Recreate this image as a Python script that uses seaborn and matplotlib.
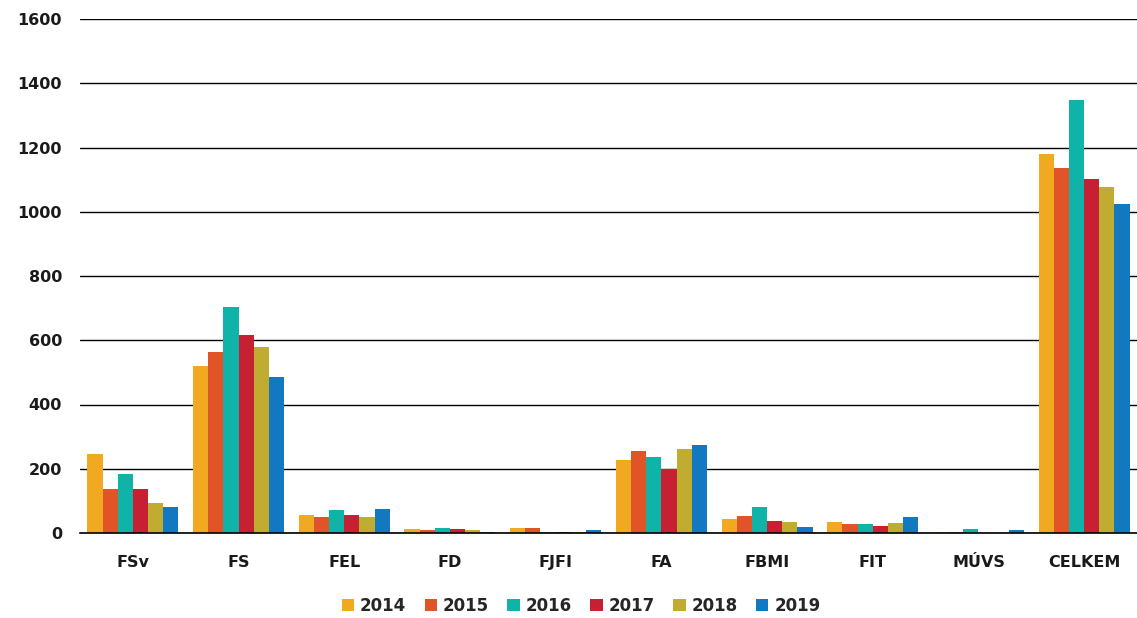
import matplotlib
matplotlib.use("Agg")
import matplotlib.pyplot as plt
import seaborn as sns
import pandas as pd
import numpy as np
from matplotlib.patches import Patch

categories = ["FSv", "FS", "FEL", "FD", "FJFI", "FA", "FBMI", "FIT", "MÚVS", "CELKEM"]
years = ["2014", "2015", "2016", "2017", "2018", "2019"]
v2014 = [247, 520, 55, 11, 15, 228, 44, 33, 3, 1180]
v2015 = [138, 563, 51, 8, 15, 254, 53, 27, 3, 1136]
v2016 = [183, 703, 71, 15, 3, 237, 82, 27, 12, 1347]
v2017 = [138, 615, 55, 12, 4, 200, 37, 23, 0, 1103]
v2018 = [93, 578, 51, 8, 3, 263, 33, 31, 0, 1077]
v2019 = [82, 487, 74, 4, 8, 275, 18, 49, 8, 1023]
colors = ["#F0A920", "#E05428", "#10B3A8", "#C82033", "#C0AC30", "#1279C0"]

series = [v2014, v2015, v2016, v2017, v2018, v2019]
rows = []
for y, vals in zip(years, series):
    for c, v in zip(categories, vals):
        rows.append({"cat": c, "year": y, "value": v})
df = pd.DataFrame(rows)

sns.set_style("white")
plt.rcParams['font.family'] = ['DejaVu Sans']

fig = plt.figure(figsize=(11.37, 6.18), dpi=100)
ax = fig.add_axes([80/1137, 85/618, 1 - 80/1137, (533-19)/618])

sns.barplot(data=df, x="cat", y="value", hue="year", order=categories,
            hue_order=years, palette=colors, width=0.86, saturation=1,
            errorbar=None, ax=ax, zorder=3, linewidth=0)

ax.set_ylim(0, 1600)
ax.set_xlim(-0.5, 9.45)
ax.set_yticks(np.arange(0, 1601, 200))
ax.yaxis.grid(True, color="black", linewidth=1.0, zorder=0)
ax.set_axisbelow(True)
for s in ["top", "right", "left"]:
    ax.spines[s].set_visible(False)
ax.spines["bottom"].set_color("black")
ax.spines["bottom"].set_linewidth(1.2)
ax.spines["bottom"].set_zorder(4)

ax.set_xticks(np.arange(-0.5, 9.6, 1.0))
ax.set_xticklabels([])
ax.tick_params(axis="x", which="major", length=7, width=1.2, color="black", direction="out")
ax.set_xticks(np.arange(0, 10), minor=True)
ax.set_xticklabels(categories, minor=True, fontsize=11.5, fontweight="bold", color="#1a1a1a")
ax.tick_params(axis="x", which="minor", length=0, pad=16)
ax.tick_params(axis="y", length=0, pad=13, labelsize=11.5)
for lab in ax.get_yticklabels():
    lab.set_fontweight("bold")
    lab.set_color("#1a1a1a")
ax.set_xlabel("")
ax.set_ylabel("")

if ax.legend_:
    ax.legend_.remove()
h = [Patch(facecolor=c, edgecolor="none") for c in colors]
fig.legend(h, years, loc="center", bbox_to_anchor=(581/1137, 1 - 606/618), ncol=6,
           frameon=False, handlelength=0.75, handleheight=0.75, handletextpad=0.35,
           columnspacing=1.1, prop={"family": "DejaVu Sans", "weight": "bold", "size": 12})

fig.savefig("out.png", dpi=100)
